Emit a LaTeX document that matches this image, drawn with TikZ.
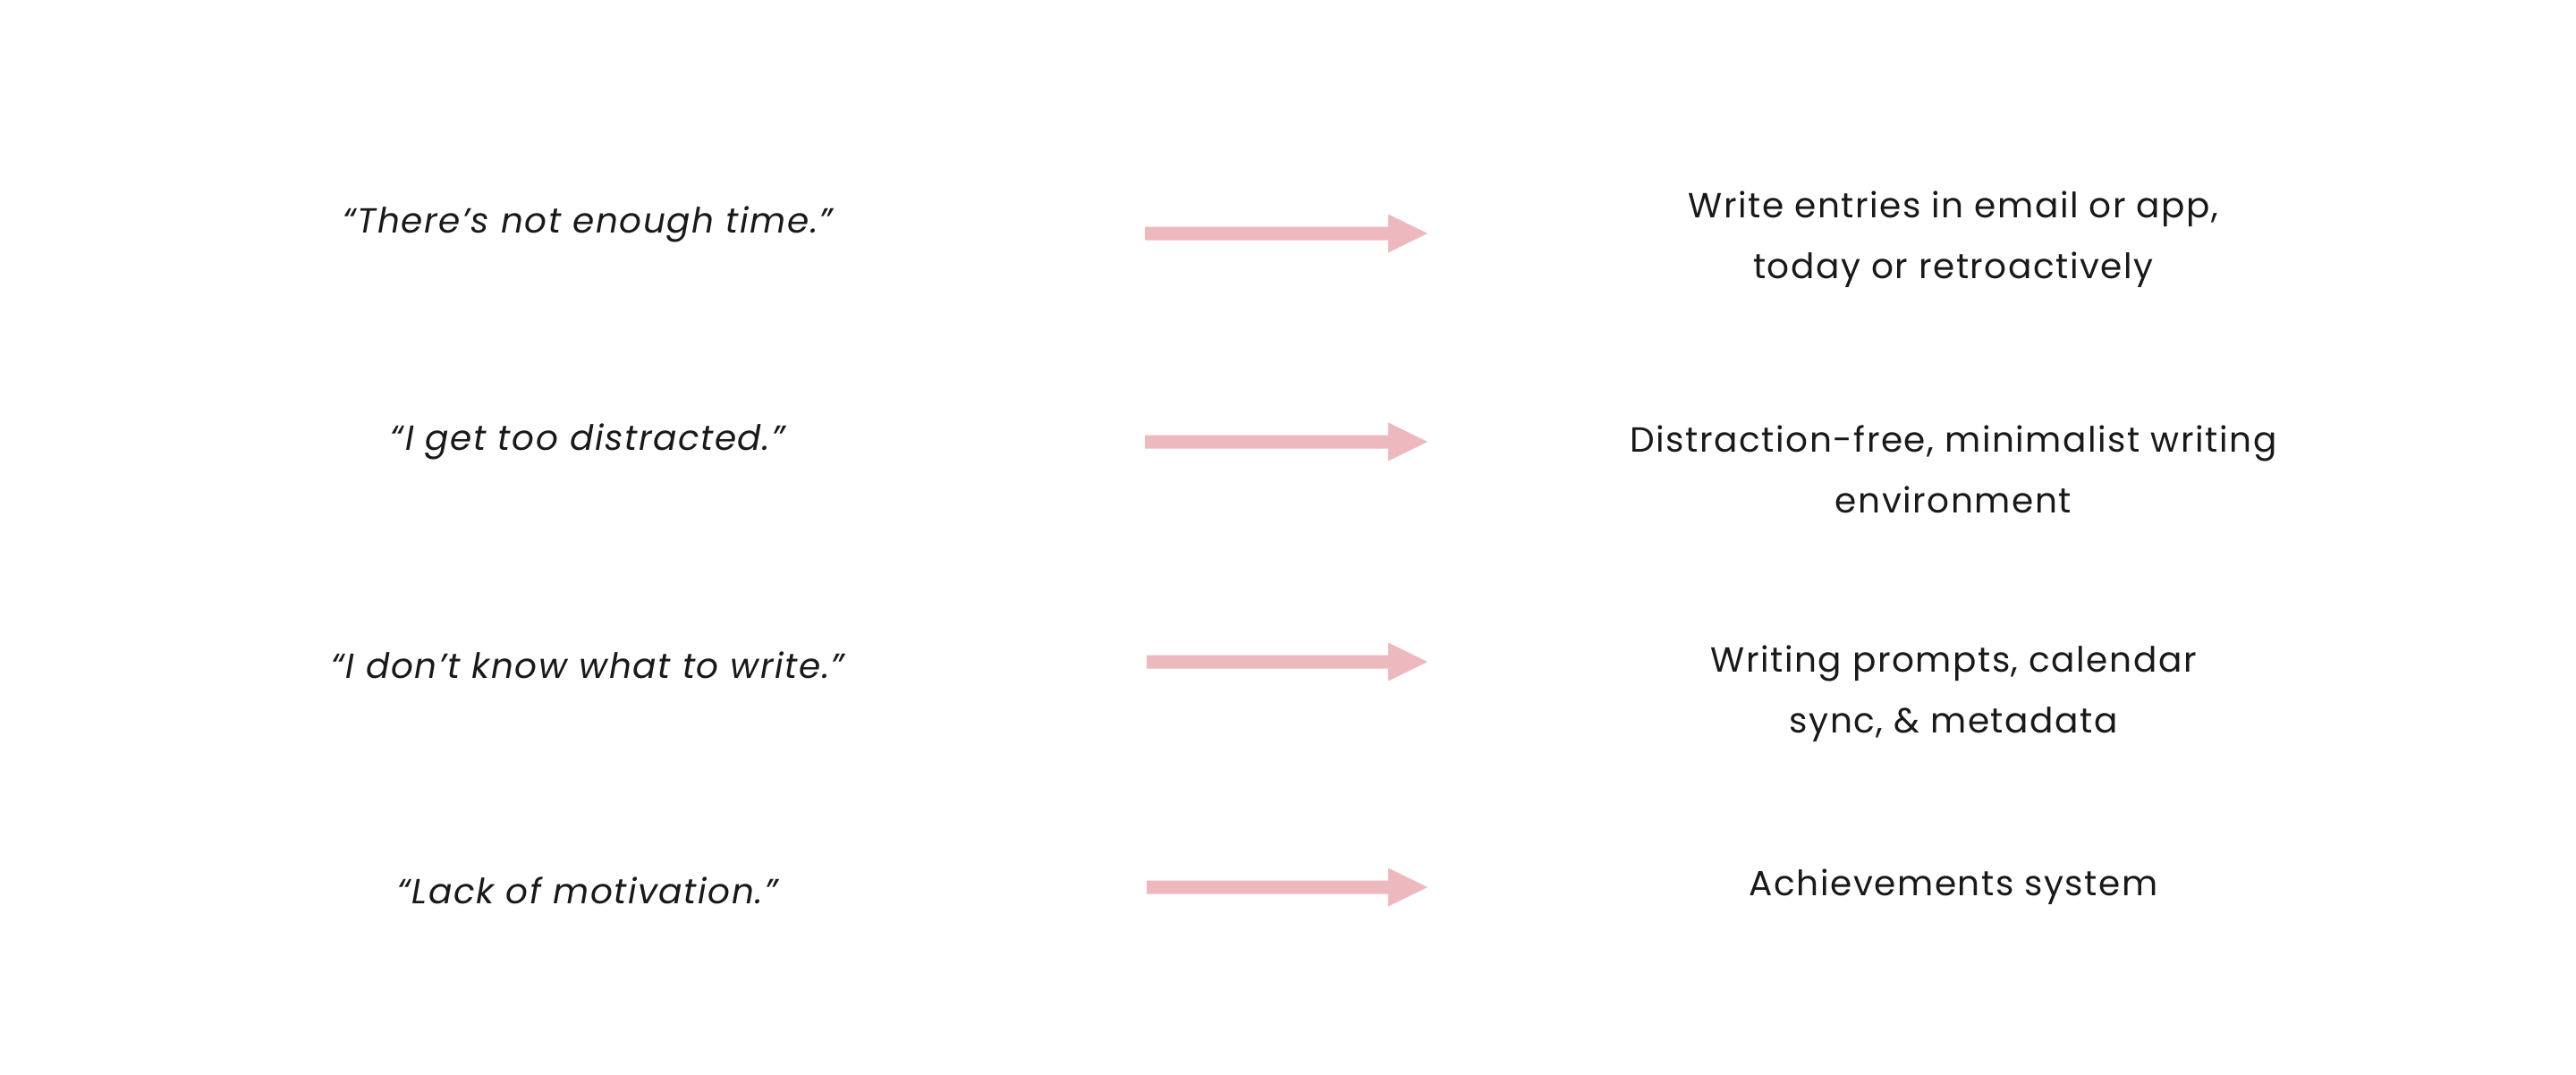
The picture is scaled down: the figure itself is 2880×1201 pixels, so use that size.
\documentclass[tikz,border=0pt]{standalone}
\usepackage{fontspec}
\setmainfont{Poppins}[LetterSpace=4]
\begin{document}
\begin{tikzpicture}[x=0.5pt,y=-0.5pt,
  txt/.style={font=\fontsize{19.5}{34}\selectfont, align=center, text=black!90, inner sep=0pt},
  quote/.style={txt, font=\fontsize{19.5}{34}\selectfont\itshape},
  pinkarrow/.style={fill=arrowpink, draw=none}]
\definecolor{arrowpink}{RGB}{238,184,191}
\useasboundingbox (0,0) rectangle (2880,1201);
\fill[white] (0,0) rectangle (2880,1201);
% arrows
\foreach \i/\xs/\y in {1/1280/261, 2/1280/494, 3/1282/740, 4/1282/992} {
  \coordinate (s\i) at (\xs,\y);
  \coordinate (t\i) at (1596,\y);
  \fill[pinkarrow] (\xs,\y-7.5) -- (1552,\y-7.5) -- (1552,\y-21.5) -- (1596,\y)
     -- (1552,\y+21.5) -- (1552,\y+7.5) -- (\xs,\y+7.5) -- cycle;
}
% left quotes
\node[quote] (q1) at (657,251) {“There’s not enough time.”};
\node[quote] (q2) at (657,494) {“I get too distracted.”};
\node[quote] (q3) at (657,744) {“I don’t know what to write.”};
\node[quote] (q4) at (657,996) {“Lack of motivation.”};
% right texts
\node[txt] (a1) at (2184,268) {Write entries in email or app,\\today or retroactively};
\node[txt] (a2) at (2184,525) {Distraction-free, minimalist writing\\environment};
\node[txt] (a3) at (2184,776) {Writing prompts, calendar\\sync, \& metadata};
\node[txt] (a4) at (2184,992) {Achievements system};
\end{tikzpicture}
\end{document}
